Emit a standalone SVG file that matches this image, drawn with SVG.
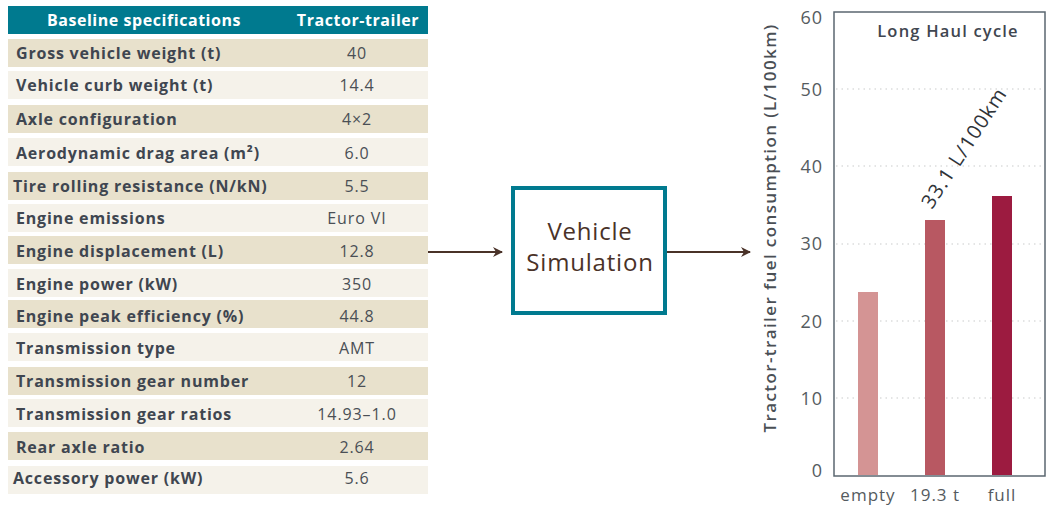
<svg xmlns="http://www.w3.org/2000/svg" width="1048" height="508" viewBox="0 0 1048 508">
  <style>
    text { font-family: "Open Sans", "Liberation Sans", Arial, sans-serif; }
    .hdr { fill: #007a8f; }
    .hdr-t { fill: #ffffff; font-size: 16px; font-weight: 700; letter-spacing: 0.55px; text-anchor: middle; }
    .dark { fill: #e8e1cc; }
    .light { fill: #f5f2ea; }
    .lbl { fill: #3f4650; font-size: 16px; font-weight: 700; letter-spacing: 0.8px; }
    .val { fill: #4a4f55; font-size: 16px; letter-spacing: 0.9px; text-anchor: middle; }
    .sim { fill: #ffffff; stroke: #007a8f; stroke-width: 4; }
    .sim-t { fill: #4a3228; font-size: 24px; font-weight: 500; letter-spacing: 0.8px; text-anchor: middle; }
    .conn { stroke: #4a3228; stroke-width: 2; fill: none; }
    .grid { stroke: #c9cbcc; stroke-width: 1.2; stroke-dasharray: 1.5 4; }
    .axis { fill: none; stroke: #5b6770; stroke-width: 1.5; }
    .tick { fill: #555b60; font-size: 18px; letter-spacing: 1px; text-anchor: end; }
    .cat { fill: #555b60; font-size: 17px; letter-spacing: 1px; text-anchor: middle; }
    .ytitle { fill: #4a4f55; font-size: 17px; font-weight: 600; letter-spacing: 1.4px; text-anchor: middle; }
    .title { fill: #3f4650; font-size: 16.5px; font-weight: 600; letter-spacing: 1.2px; text-anchor: middle; }
    .note { fill: #2f3338; font-size: 20px; letter-spacing: 1.1px; }
  </style>
  <defs>
    <marker id="arrow" markerWidth="10" markerHeight="10" refX="9" refY="5" orient="auto" markerUnits="userSpaceOnUse">
      <path d="M0,0 L10,5 L0,10 L3,5 Z" fill="#4a3228"/>
    </marker>
  </defs>

  <!-- Specification table -->
  <g id="spec-table">
    <rect class="hdr" x="8" y="6" width="420" height="28"/>
    <text class="hdr-t" x="144" y="26">Baseline specifications</text>
    <text class="hdr-t" x="358" y="26">Tractor-trailer</text>

    <rect class="dark" x="8" y="39" width="420" height="28"/>
    <text class="lbl" x="16" y="59">Gross vehicle weight (t)</text>
    <text class="val" x="357" y="59">40</text>

    <rect class="light" x="8" y="71" width="420" height="28"/>
    <text class="lbl" x="16" y="91">Vehicle curb weight (t)</text>
    <text class="val" x="357" y="91">14.4</text>

    <rect class="dark" x="8" y="105" width="420" height="28"/>
    <text class="lbl" x="16" y="125">Axle configuration</text>
    <text class="val" x="357" y="125">4×2</text>

    <rect class="light" x="8" y="138" width="420" height="28"/>
    <text class="lbl" x="16" y="159">Aerodynamic drag area (m²)</text>
    <text class="val" x="357" y="159">6.0</text>

    <rect class="dark" x="8" y="172" width="420" height="28"/>
    <text class="lbl" x="13" y="192">Tire rolling resistance (N/kN)</text>
    <text class="val" x="357" y="192">5.5</text>

    <rect class="light" x="8" y="204" width="420" height="28"/>
    <text class="lbl" x="16" y="224">Engine emissions</text>
    <text class="val" x="357" y="224">Euro VI</text>

    <rect class="dark" x="8" y="236" width="420" height="28"/>
    <text class="lbl" x="16" y="257">Engine displacement (L)</text>
    <text class="val" x="357" y="257">12.8</text>

    <rect class="light" x="8" y="269" width="420" height="28"/>
    <text class="lbl" x="16" y="290">Engine power (kW)</text>
    <text class="val" x="357" y="290">350</text>

    <rect class="dark" x="8" y="300" width="420" height="28"/>
    <text class="lbl" x="16" y="322">Engine peak efficiency (%)</text>
    <text class="val" x="357" y="322">44.8</text>

    <rect class="light" x="8" y="333" width="420" height="28"/>
    <text class="lbl" x="16" y="354">Transmission type</text>
    <text class="val" x="357" y="354">AMT</text>

    <rect class="dark" x="8" y="367" width="420" height="28"/>
    <text class="lbl" x="16" y="387">Transmission gear number</text>
    <text class="val" x="357" y="387">12</text>

    <rect class="light" x="8" y="399" width="420" height="28"/>
    <text class="lbl" x="16" y="420">Transmission gear ratios</text>
    <text class="val" x="357" y="420">14.93–1.0</text>

    <rect class="dark" x="8" y="432" width="420" height="28"/>
    <text class="lbl" x="16" y="453">Rear axle ratio</text>
    <text class="val" x="357" y="453">2.64</text>

    <rect class="light" x="8" y="466" width="420" height="28"/>
    <text class="lbl" x="13" y="484">Accessory power (kW)</text>
    <text class="val" x="357" y="484">5.6</text>
  </g>

  <!-- Simulation block -->
  <g id="vehicle-simulation">
    <rect class="sim" x="513" y="188" width="152" height="125"/>
    <text class="sim-t" x="590" y="240">Vehicle</text>
    <text class="sim-t" x="590" y="271">Simulation</text>
  </g>

  <!-- Connectors -->
  <g id="connectors">
    <line class="conn" x1="428" y1="252" x2="502" y2="252" marker-end="url(#arrow)"/>
    <line class="conn" x1="667" y1="252" x2="750" y2="252" marker-end="url(#arrow)"/>
  </g>

  <!-- Fuel consumption chart -->
  <g id="fuel-chart">
    <line class="grid" x1="836" y1="89" x2="1044" y2="89"/>
    <line class="grid" x1="836" y1="166" x2="1044" y2="166"/>
    <line class="grid" x1="836" y1="244" x2="1044" y2="244"/>
    <line class="grid" x1="836" y1="321" x2="1044" y2="321"/>
    <line class="grid" x1="836" y1="398" x2="1044" y2="398"/>

    <rect x="858" y="292" width="20" height="183" fill="#d49494"/>
    <rect x="925" y="220" width="20" height="255" fill="#b85862"/>
    <rect x="992" y="196" width="20" height="279" fill="#9c1b40"/>

    <path class="axis" d="M834,476 L834,12 L1045,12 L1045,476 Z"/>

    <text class="tick" x="823" y="24">60</text>
    <text class="tick" x="823" y="96">50</text>
    <text class="tick" x="823" y="173">40</text>
    <text class="tick" x="823" y="250">30</text>
    <text class="tick" x="823" y="328">20</text>
    <text class="tick" x="823" y="405">10</text>
    <text class="tick" x="823" y="477">0</text>

    <text class="cat" x="868" y="501">empty</text>
    <text class="cat" x="935" y="501">19.3 t</text>
    <text class="cat" x="1002" y="501">full</text>

    <text class="title" x="948" y="37">Long Haul cycle</text>
    <text class="note" x="932" y="210" transform="rotate(-57 932 210)">33.1 L/100km</text>
    <text class="ytitle" x="776" y="228" transform="rotate(-90 776 228)">Tractor-trailer fuel consumption (L/100km)</text>
  </g>
</svg>
